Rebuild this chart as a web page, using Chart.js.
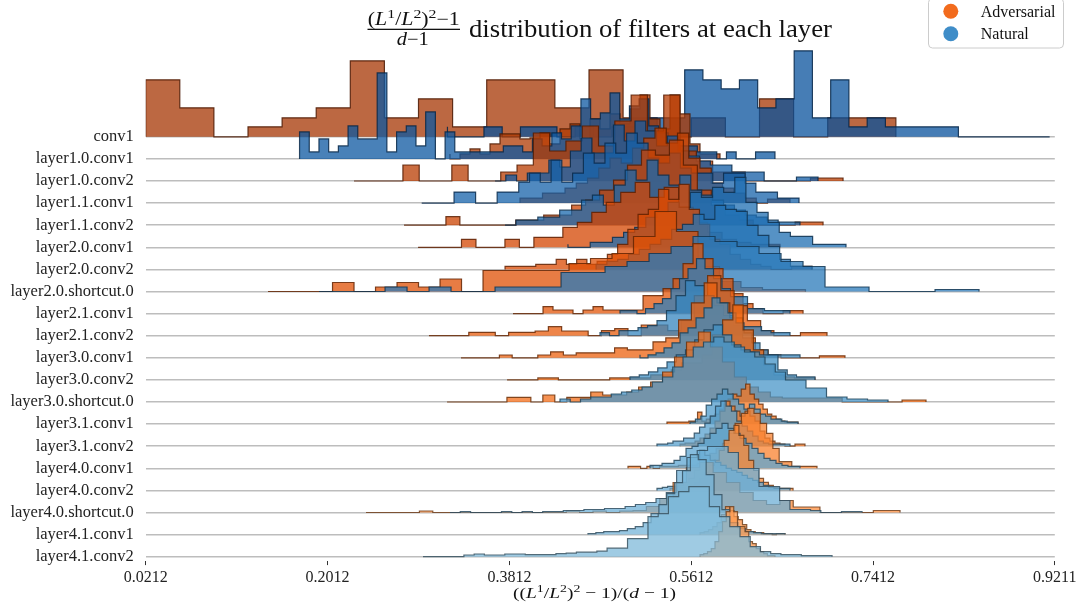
<!DOCTYPE html>
<html>
<head>
<meta charset="utf-8">
<script src="https://cdn.jsdelivr.net/npm/chart.js@4.4.1/dist/chart.umd.min.js"></script>
<style>
  html, body { margin: 0; padding: 0; background: #fff; }
  #wrap { width: 1079px; height: 609px; }
</style>
</head>
<body>
<div id="wrap"><canvas id="c" width="1079" height="609"></canvas></div>
<script>
// Ridgeline of (L1/L2)^2-1 / (d-1) per layer, adversarial vs natural step histograms.

const LAYERS = ["conv1", "layer1.0.conv1", "layer1.0.conv2", "layer1.1.conv1", "layer1.1.conv2",
  "layer2.0.conv1", "layer2.0.conv2", "layer2.0.shortcut.0", "layer2.1.conv1", "layer2.1.conv2",
  "layer3.0.conv1", "layer3.0.conv2", "layer3.0.shortcut.0", "layer3.1.conv1", "layer3.1.conv2",
  "layer4.0.conv1", "layer4.0.conv2", "layer4.0.shortcut.0", "layer4.1.conv1", "layer4.1.conv2"];
const X_TICKS = [0.0212, 0.2012, 0.3812, 0.5612, 0.7412, 0.9211];

// [min, max] of each histogram, uniform bins in between
const ADV_RANGE = [[0.0212, 0.7638], [0.3224, 0.5897], [0.2274, 0.7115], [0.3917, 0.6590], [0.2769, 0.6917],
  [0.2908, 0.6491], [0.3769, 0.6808], [0.1423, 0.6743], [0.3848, 0.6719], [0.3016, 0.6956],
  [0.3333, 0.7134], [0.3789, 0.6837], [0.3195, 0.7936], [0.5372, 0.6669], [0.5501, 0.6738],
  [0.4986, 0.6857], [0.5402, 0.6620], [0.2393, 0.7679], [0.5699, 0.6540], [0.5699, 0.6441]];
const NAT_RANGE = [[0.3199, 0.9160], [0.1735, 0.6441], [0.3670, 0.6867], [0.2944, 0.6679], [0.3769, 0.6689],
  [0.4392, 0.7144], [0.4670, 0.6808], [0.1928, 0.8461], [0.4907, 0.6590], [0.4709, 0.6590],
  [0.5105, 0.6689], [0.5006, 0.6837], [0.4313, 0.7560], [0.5600, 0.6669], [0.5273, 0.6590],
  [0.5204, 0.6689], [0.5273, 0.6590], [0.3224, 0.7303], [0.4590, 0.6540], [0.2957, 0.7006]];

// bin heights (ridge density units; 22.1 units = one row)
const ADV_HEIGHTS = [
  [19,57,29,0,10,19,29,76,19,38,10,57,57,29,67,19,0,19,0,38,0,19],
  [5,0,5,10,5,15,25,25,20,21,26,15,30,35,20,40,30,45,35,50,64,40,30,64,45,15,5],
  [0,0,0,0,16,0,0,16,0,0,9,16,48,30,40,55,35,60,86,50,86,30,20,9,9,0,0,0,0,3],
  [0,5,5,10,10,15,20,25,35,45,40,55,65,75,60,70,45,35,20,15,10,5,0,4],
  [0,0,0,0,8.5,0,0,0,0,5,5,10,10,20,25,35,45,60,75,70,85,60,35,20,10,5,0,0,0,3],
  [0,0,0,0,8,0,0,8,0,10,10,20,25,35,45,55,65,50,60,40,25,15,8,5,3],
  [0,3,3,3,5,5,10,5,10,5,8,15,25,40,55,60,80,70,85,60,45,30,25,15,10,5,3,0,0,3],
  [0,0,0,0,9,0,4.5,9,4.5,12.5,0,21,21,21,21,28,33,38,55,80,60,25,10,4,2],
  [0,0,0,0,7,3.6,3.6,0,3.6,7,3.6,3.6,3.6,3.6,18,18,25,35,50,70,55,45,35,20,10,5,0,0,3],
  [0,0,0,0,3.4,3.4,0,3.4,3.4,4.7,9,4.7,4.7,0,5,7,0,10.7,10.7,5,15,40,60,45,30,15,5,0,0,3],
  [0,0,0,0,2.8,0,0,2.8,6,2.8,5,5,5,10,8,8,16,20,38,55,75,55,40,20,8,3,0,0,0,2],
  [0,0,0,0,2,2,0,0,0,0,0,2,2,2,2,5,5,10,17,17,25,45,60,75,50,30,15,5,3,2],
  [0,0,0,0,0,0,4.7,4.7,0,7,0,4.7,4.7,10,7,7,10,15,20,30,45,60,70,55,40,25,15,10,5,4,4,4,4,4,0,0,0,0,0,2],
  [2,2,2,2,2,2,3,3,12,3,5,8,10,15,20,25,30,28,35,40,30,25,20,15,10,8,5,3,2,2],
  [2,2,3,3,5,8,12,18,25,35,45,40,35,30,35,30,25,15,8,5,3,2,0,0,2],
  [2,2,2,0,2,0,2,2,2,3,3,3,5,8,15,20,25,35,45,55,60,55,45,35,20,6.6,6.6,2,2,2],
  [2,2,3,3,2,5,8,12,18,25,30,40,50,60,65,55,45,30,20,12,8,5,3,2,2],
  [0,0,0,0,0,1.5,0,0,0,0,0,0,0,0,0,0,1.5,0,1.5,0,1.5,2,6,14,30,45,50,40,30,20,12,8,12,5.5,5.5,0,0,0,0,2],
  [2,2,3,5,8,12,20,28,24,18,15,10,5,3,2,2,1,1,0,1],
  [1,2,3,5,8,15,25,35,45,50,45,30,30,25,15,13,8,5,3,1]
];
const NAT_HEIGHTS = [
  [10,0,0,10,0,10,10,0,10,0,10,10,19,19,67,57,48,57,29,38,86,19,57,10,19,10,10,10,10,0,0,0,0],
  [7,27,7,20,7,13,33,20,20,86,7,27,33,13,47,0,27,7,7,7,7,7,13,13,7,20,13,26,20,33,60,40,46,66,40,53,60,33,26,20,13,13,7,7,0,7,0,0,7],
  [0,0,6,0,8,8,21,14,30,43,28,28,56,40,60,50,35,45,30,25,20,16,16,9,9,9,0,0,0,4],
  [0,0,0,0,11,11,0,0,11,11,21,30,21,43,21,30,50,40,60,50,70,60,45,40,50,35,30,30,20,30,30,20,11,11,5],
  [0,0,5,5,8,8,15,15,25,30,20,40,55,45,65,50,40,50,35,30,25,20,15,10,8,5,3],
  [3,0,0,5,5,10,15,20,30,35,45,40,55,50,60,55,70,45,35,25,15,11,11,3,3],
  [3,5,8,10,15,20,25,30,40,45,55,50,64,60,58,44,34,23,10,3],
  [0,0,0,0,4.5,0,4.5,0,0,4.5,4.5,4.5,19,19,25,30,38,45,55,50,45,38,30,25,4.5,4.5,0,0,0,2],
  [3,3,3,0,5,10,15,25,35,45,55,45,35,25,17,17,5,5,3,3],
  [3,3,0,5,5,8,10,15,25,40,55,50,40,30,20,10,9,9,5,3],
  [3,0,3,5,10,15,25,30,40,50,60,55,45,35,25,15,8,3,3,3],
  [3,3,5,8,12,18,25,30,40,50,55,45,35,30,28,25,25,10,5,3],
  [0,3,0,3,5,5,8,10,12,15,20,25,35,45,55,60,65,60,55,50,45,38,30,22,22,14,14,5,5,3,3,2],
  [0,2,5,8,19,25,30,35,30,25,20,15,20,15,10,8,5,5,3,2],
  [2,2,2,3,5,5,8,8,13,19,23,30,40,45,40,35,25,20,15,10,5,3,2,2,2],
  [2,3,3,5,5,8,12,20,22,25,30,35,40,45,40,35,30,25,20,15,10,8,5,3,2],
  [2,2,3,4,4,5,8,12,20,40,35,30,28,25,22,20,18,15,12,10,8,5,3,2,2],
  [0,0,1,0,0,0,1,0,1,0,1,1,2,2,3,3,4,4,6,8,10,14,20,42,55,62,66,66,60,44,44,26,26,12,3,3,2,0,0,1],
  [1,1,2,3,3,4,6,8,12,21,30,41,52,64,80,75,60,40,25,12,6,3,2,1,1],
  [0,0,0,0,0,1.7,2.7,1.7,1.7,2.7,2.7,2,2,2,3,3.5,4.5,4.5,5.5,8.5,8.5,18,18,40,43,60,65,70,70,50,40,30,20,10,5,3,2,2,1,1]
];

const DENS = 1 / 22.1;          // density unit -> row units
const SERIF = '"Liberation Serif", "DejaVu Serif", serif';
const ORANGES = ["#fff5eb","#fee6ce","#fdd0a2","#fdae6b","#fd8d3c","#f16913","#d94801","#a63603","#7f2704"];
const BLUES = ["#f7fbff","#deebf7","#c6dbef","#9ecae1","#6baed6","#4292c6","#2171b5","#08519c","#08306b"];

function hex(h) { return [1, 3, 5].map(i => parseInt(h.slice(i, i + 2), 16)); }
function cmap(stops, t) {
  const p = t * (stops.length - 1);
  const i = Math.min(Math.floor(p), stops.length - 2), f = p - i;
  const a = hex(stops[i]), b = hex(stops[i + 1]);
  return a.map((v, k) => v + (b[k] - v) * f);
}
const rgba = (c, a) => `rgba(${c.map(v => Math.round(v)).join(",")},${a})`;

// --- datasets: one stepped, filled line per histogram, later rows on top ----
const datasets = [];
LAYERS.forEach((name, i) => {
  const base = LAYERS.length - 1 - i;
  const t = 0.875 - i * 0.425 / (LAYERS.length - 1);
  [[ADV_RANGE, ADV_HEIGHTS, ORANGES, "Adversarial"], [NAT_RANGE, NAT_HEIGHTS, BLUES, "Natural"]]
    .forEach(([rng, hts, stops, kind]) => {
      const [lo, hi] = rng[i], h = hts[i], w = (hi - lo) / h.length;
      const pts = [{ x: lo, y: base }];
      h.forEach((v, k) => pts.push({ x: lo + k * w, y: base + v * DENS }));
      pts.push({ x: hi, y: base + h[h.length - 1] * DENS });
      pts.push({ x: hi, y: base });
      const c = cmap(stops, t);
      datasets.push({
        label: name + " " + kind, data: pts, stepped: "after", fill: { value: base },
        backgroundColor: rgba(c, 0.75), borderColor: rgba(c.map(v => v * 0.45), 0.85),
        borderWidth: 1.2, pointRadius: 0, order: 100 - datasets.length,
      });
    });
});

// --- math-ish text runs: [text, 'n' | 'i' | 's'] --------------------------------
function fontFor(k, size, sup) { return (k === "i" ? "italic " : "") + (k === "s" ? sup : size) + "px " + SERIF; }
function drawRuns(ctx, runs, cx, baseline, size, sup, targetW) {
  let total = 0;
  const ws = runs.map(([txt, k]) => { ctx.font = fontFor(k, size, sup); const m = ctx.measureText(txt).width; total += m; return m; });
  const sx = targetW ? targetW / total : 1;
  ctx.save();
  ctx.translate(cx - total * sx / 2, baseline);
  ctx.scale(sx, 1);
  let x = 0;
  runs.forEach(([txt, k], j) => {
    ctx.font = fontFor(k, size, sup);
    ctx.fillText(txt, x, k === "s" ? -size * 0.4 : 0);
    x += ws[j];
  });
  ctx.restore();
}

const decorations = {
  id: "decorations",
  afterDraw(chart) {
    const ctx = chart.ctx;
    ctx.save();
    ctx.fillStyle = "#111";
    ctx.textAlign = "left";
    ctx.textBaseline = "alphabetic";
    // title: fraction + text
    const num = [["(", "n"], ["L", "i"], ["1", "s"], ["/", "n"], ["L", "i"], ["2", "s"], [")", "n"], ["2", "s"], ["\u22121", "n"]];
    drawRuns(ctx, num, 413.8, 25, 18, 13, 92);
    ctx.fillRect(367.5, 28.7, 92.5, 1.3);
    drawRuns(ctx, [["d", "i"], ["\u22121", "n"]], 412.7, 44.5, 18, 13, 32);
    drawRuns(ctx, [["distribution of filters at each layer", "n"]], 650.5, 37, 26, 18, 363);
    // x-axis label
    const xl = [["((", "n"], ["L", "i"], ["1", "s"], ["/", "n"], ["L", "i"], ["2", "s"], [")", "n"], ["2", "s"],
      [" \u2212 1)/(", "n"], ["d", "i"], [" \u2212 1)", "n"]];
    drawRuns(ctx, xl, 594.5, 598, 15.5, 11, 163);
    // legend
    ctx.beginPath();
    ctx.roundRect(928.5, -1.5, 135, 49.5, 4);
    ctx.fillStyle = "rgba(255,255,255,0.85)";
    ctx.fill();
    ctx.strokeStyle = "#cccccc";
    ctx.lineWidth = 1;
    ctx.stroke();
    [["Adversarial", "#f26b1d", 11.3], ["Natural", "#3f8dc8", 33.7]].forEach(([txt, col, y]) => {
      ctx.beginPath();
      ctx.arc(950.8, y, 7.5, 0, Math.PI * 2);
      ctx.fillStyle = col;
      ctx.fill();
      ctx.fillStyle = "#111";
      ctx.font = "16px " + SERIF;
      ctx.fillText(txt, 980.8, y + 5.5);
    });
    ctx.restore();
  },
};

new Chart(document.getElementById("c"), {
  type: "line",
  data: { datasets },
  options: {
    responsive: false, animation: false, devicePixelRatio: 1, events: [],
    layout: { padding: { top: 40, left: 0, right: 24.2, bottom: 0 } },
    plugins: { legend: { display: false }, title: { display: false }, tooltip: { enabled: false } },
    scales: {
      x: {
        type: "linear", min: X_TICKS[0], max: X_TICKS[X_TICKS.length - 1],
        afterBuildTicks: s => { s.ticks = X_TICKS.map(v => ({ value: v })); },
        afterFit: s => { s.height = 47.9; s.paddingLeft = 0; s.paddingRight = 0; },
        ticks: { callback: v => v.toFixed(4), autoSkip: false, maxRotation: 0, padding: 3,
          color: "#222", font: { family: SERIF, size: 16 } },
        grid: { drawOnChartArea: false, drawTicks: true, tickLength: 4, color: "#333", tickWidth: 1 },
        border: { display: false },
      },
      y: {
        type: "linear", min: -0.2, max: 23.38,
        afterBuildTicks: s => { s.ticks = LAYERS.map((_, i) => ({ value: LAYERS.length - 1 - i })); },
        afterFit: s => { s.width = 145.7; s.paddingTop = 0; s.paddingBottom = 0; },
        ticks: { callback: v => LAYERS[LAYERS.length - 1 - v], autoSkip: false, padding: 12,
          color: "#222", font: { family: SERIF, size: 16.5 } },
        grid: { color: "#bdbdbd", lineWidth: 1.4, drawTicks: false },
        border: { display: false },
      },
    },
  },
  plugins: [decorations],
});
</script>
</body>
</html>
